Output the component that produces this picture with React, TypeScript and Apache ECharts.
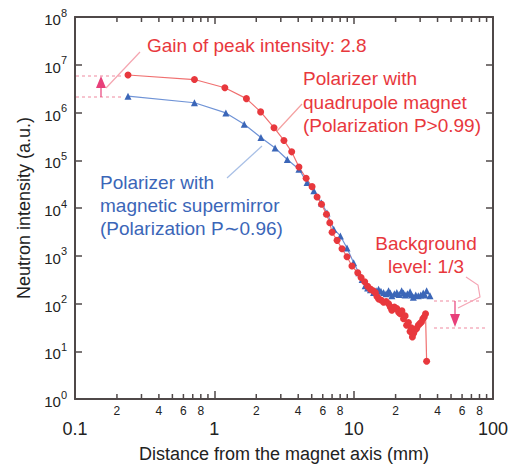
import { useEffect, useRef } from 'react';
import * as echarts from 'echarts';

const FONT = 'Liberation Sans, Arial, Helvetica, sans-serif';

// Polarizer with quadrupole magnet (red)
const redX = [0.24, 0.72, 1.19, 1.7, 2.15, 2.68, 3.16, 3.59, 4.05, 4.56, 5.03, 5.46, 5.88, 6.38, 6.74, 7.0, 7.6, 8.25, 8.96, 9.72, 10.7, 11.3, 12.0, 12.6, 13.2, 13.8, 14.3, 14.7, 15.1, 15.7, 16.4, 17.1, 17.8, 18.3, 18.8, 19.6, 20.4, 21.0, 21.6, 22.2, 22.8, 23.4, 24.0, 24.7, 25.4, 25.9, 26.4, 27.0, 27.6, 28.3, 29.1, 29.9, 30.7, 31.4, 32.1, 32.8, 33.4];
const redY = [6.1e6, 4.9e6, 3.3e6, 1.95e6, 1.03e6, 4.8e5, 2.6e5, 1.5e5, 7.2e4, 4.2e4, 2.8e4, 1.7e4, 1.2e4, 7.4e3, 4.9e3, 3.1e3, 2.1e3, 1.4e3, 950, 610, 440, 350, 285, 230, 200, 185, 170, 140, 125, 118, 106, 110, 99, 85, 72, 84, 78, 66, 61, 70, 48, 55, 35, 40, 26, 31, 20, 24, 28, 30, 35, 38, 41, 48, 52, 61, 6.2];

// Polarizer with magnetic supermirror (blue)
const blueX = [0.24, 0.72, 1.21, 1.64, 2.16, 2.73, 3.34, 4.05, 4.63, 5.18, 5.88, 6.44, 7.2, 8.03, 8.96, 10.0, 10.9, 11.5, 12.1, 12.6, 13.2, 13.9, 14.5, 15.1, 15.7, 16.4, 17.1, 17.8, 18.3, 18.8, 19.6, 20.4, 21.2, 22.1, 22.8, 23.4, 24.3, 25.4, 26.0, 26.8, 27.9, 29.1, 30.3, 31.6, 32.5, 33.4, 35.3];
const blueY = [2.2e6, 1.6e6, 9.8e5, 5.7e5, 3.0e5, 1.8e5, 1.04e5, 6.5e4, 3.4e4, 2.3e4, 1.27e4, 7.9e3, 3.6e3, 2.6e3, 1.45e3, 710, 440, 320, 235, 210, 194, 170, 185, 200, 180, 170, 160, 185, 165, 146, 160, 170, 155, 185, 165, 150, 160, 177, 150, 135, 150, 146, 150, 166, 150, 185, 146];

// Minor x ticks (2..9 in each decade) and their labels
const minorTickValues = [0.2, 0.3, 0.4, 0.5, 0.6, 0.7, 0.8, 0.9, 2, 3, 4, 5, 6, 7, 8, 9, 20, 30, 40, 50, 60, 70, 80, 90];
const minorTickLabels = ['2', '', '4', '', '6', '', '8', '', '2', '', '4', '', '6', '', '8', '', '2', '', '4', '', '6', '', '8', ''];

const RED = '#e8383d';
const BLUE = '#3b66b8';
const AXIS = '#4f4848';

export default function App() {
  const ref = useRef<HTMLDivElement>(null);
  useEffect(() => {
    const chart = echarts.init(ref.current!, null, { renderer: 'svg' });
    const axisCommon = {
      type: 'log' as const,
      logBase: 10,
      axisLine: { show: true, lineStyle: { color: AXIS, width: 2 } },
      splitLine: { show: false },
    };
    const option: any = {
      animation: false,
      backgroundColor: '#fff',
      grid: { left: 75, right: 16, top: 17, bottom: 63 },
      xAxis: [
        {
          ...axisCommon,
          min: 0.1,
          max: 100,
          splitNumber: 3,
          position: 'bottom',
          axisTick: { inside: true, length: 8, lineStyle: { color: AXIS, width: 1.5 } },
          axisLabel: {
            margin: 21,
            fontSize: 18,
            fontFamily: FONT,
            color: '#222',
            formatter: (v: number) => String(v),
          },
          name: 'Distance from the magnet axis (mm)',
          nameLocation: 'middle',
          nameGap: 46,
          nameTextStyle: { fontSize: 18, fontFamily: FONT, color: '#222' },
        },
        {
          ...axisCommon,
          min: 0.1,
          max: 100,
          splitNumber: 3,
          position: 'top',
          axisTick: { inside: true, length: 7, lineStyle: { color: AXIS, width: 1.5 } },
          axisLabel: { show: false },
        },
      ],
      yAxis: [
        {
          ...axisCommon,
          min: 1,
          max: 1e8,
          splitNumber: 8,
          position: 'left',
          axisTick: { inside: true, length: 7, lineStyle: { color: AXIS, width: 1.5 } },
          axisLabel: {
            margin: 8,
            fontFamily: FONT,
            color: '#222',
            formatter: (v: number) => `{b|10}{s|${Math.round(Math.log10(v))}}`,
            rich: {
              b: { fontSize: 15, fontFamily: FONT, color: '#222', padding: [5, 0, 0, 0] },
              s: { fontSize: 11, fontFamily: FONT, color: '#222', verticalAlign: 'top' },
            },
          },
          name: 'Neutron intensity (a.u.)',
          nameLocation: 'middle',
          nameGap: 40,
          nameRotate: 90,
          nameTextStyle: { fontSize: 18, fontFamily: FONT, color: '#222' },
        },
        {
          ...axisCommon,
          min: 1,
          max: 1e8,
          splitNumber: 8,
          position: 'right',
          axisTick: { inside: true, length: 7, lineStyle: { color: AXIS, width: 1.5 } },
          axisLabel: { show: false },
        },
      ],
      series: [
        {
          type: 'custom',
          silent: true,
          clip: false,
          xAxisIndex: 0,
          yAxisIndex: 0,
          data: minorTickValues.map((v) => [v, 1]),
          renderItem: (params: any, api: any) => {
            const v = api.value(0);
            const b = api.coord([v, 1]);
            const t = api.coord([v, 1e8]);
            const lbl = minorTickLabels[params.dataIndex];
            const children: any[] = [
              { type: 'line', shape: { x1: b[0], y1: b[1], x2: b[0], y2: b[1] - 5 }, style: { stroke: AXIS, lineWidth: 1.5 } },
              { type: 'line', shape: { x1: t[0], y1: t[1], x2: t[0], y2: t[1] + 5 }, style: { stroke: AXIS, lineWidth: 1.5 } },
            ];
            if (lbl) {
              children.push({
                type: 'text',
                x: b[0],
                y: b[1] + 12,
                style: { text: lbl, fontSize: 12, fontFamily: FONT, fill: '#222', align: 'center', verticalAlign: 'middle' },
              });
            }
            return { type: 'group', children };
          },
        },
        {
          name: 'supermirror',
          type: 'line',
          data: blueX.map((x, i) => [x, blueY[i]]),
          symbol: 'triangle',
          symbolSize: 7,
          itemStyle: { color: BLUE },
          lineStyle: { color: '#6f93d6', width: 1.2 },
        },
        {
          name: 'quadrupole',
          type: 'line',
          data: redX.map((x, i) => [x, redY[i]]),
          symbol: 'circle',
          symbolSize: 7,
          itemStyle: { color: RED },
          lineStyle: { color: '#f07070', width: 1.2 },
        },
      ],
      graphic: [
        { type: 'line', shape: { x1: 76, y1: 76, x2: 124, y2: 76 }, style: { stroke: '#f08aa0', lineDash: [3, 3], lineWidth: 1.2 } },
        { type: 'line', shape: { x1: 76, y1: 97, x2: 124, y2: 97 }, style: { stroke: '#f08aa0', lineDash: [3, 3], lineWidth: 1.2 } },
        { type: 'line', shape: { x1: 101, y1: 97, x2: 101, y2: 86 }, style: { stroke: '#e8407a', lineWidth: 1.2 } },
        { type: 'polygon', shape: { points: [[101, 76], [96, 88], [106, 88]] }, style: { fill: '#e8407a' } },
        { type: 'line', shape: { x1: 106, y1: 88, x2: 140, y2: 52 }, style: { stroke: '#f5a5b0', lineWidth: 1.2 } },
        { type: 'line', shape: { x1: 302, y1: 104, x2: 277, y2: 131 }, style: { stroke: '#f4a0a0', lineWidth: 1.2 } },
        { type: 'line', shape: { x1: 227, y1: 178, x2: 262, y2: 146 }, style: { stroke: '#a8bfe6', lineWidth: 1.2 } },
        { type: 'line', shape: { x1: 434, y1: 301, x2: 480, y2: 301 }, style: { stroke: '#f08aa0', lineDash: [3, 3], lineWidth: 1.2 } },
        { type: 'line', shape: { x1: 434, y1: 328, x2: 485, y2: 328 }, style: { stroke: '#f08aa0', lineDash: [3, 3], lineWidth: 1.2 } },
        { type: 'line', shape: { x1: 455, y1: 301, x2: 455, y2: 315 }, style: { stroke: '#e8407a', lineWidth: 1.2 } },
        { type: 'polygon', shape: { points: [[455, 327], [450, 314], [460, 314]] }, style: { fill: '#e8407a' } },
        { type: 'polyline', shape: { points: [[466, 277], [478, 285], [480, 297], [458, 308]] }, style: { stroke: '#f5a5b5', lineWidth: 1.2, fill: 'none' } },
        { type: 'text', x: 147, y: 45, style: { text: 'Gain of peak intensity: 2.8', fontSize: 19, fontFamily: FONT, fill: RED, align: 'left', verticalAlign: 'middle' } },
        { type: 'text', x: 303, y: 78, style: { text: 'Polarizer with', fontSize: 19, fontFamily: FONT, fill: RED, align: 'left', verticalAlign: 'middle' } },
        { type: 'text', x: 303, y: 102, style: { text: 'quadrupole magnet', fontSize: 19, fontFamily: FONT, fill: RED, align: 'left', verticalAlign: 'middle' } },
        { type: 'text', x: 303, y: 125, style: { text: '(Polarization P>0.99)', fontSize: 19, fontFamily: FONT, fill: RED, align: 'left', verticalAlign: 'middle' } },
        { type: 'text', x: 100, y: 182, style: { text: 'Polarizer with', fontSize: 19, fontFamily: FONT, fill: BLUE, align: 'left', verticalAlign: 'middle' } },
        { type: 'text', x: 100, y: 205, style: { text: 'magnetic supermirror', fontSize: 19, fontFamily: FONT, fill: BLUE, align: 'left', verticalAlign: 'middle' } },
        { type: 'text', x: 100, y: 228, style: { text: '(Polarization P\u223c0.96)', fontSize: 19, fontFamily: FONT, fill: BLUE, align: 'left', verticalAlign: 'middle' } },
        { type: 'text', x: 426, y: 243, style: { text: 'Background', fontSize: 19, fontFamily: FONT, fill: RED, align: 'center', verticalAlign: 'middle' } },
        { type: 'text', x: 426, y: 266, style: { text: 'level: 1/3', fontSize: 19, fontFamily: FONT, fill: RED, align: 'center', verticalAlign: 'middle' } },
      ],
    };
    chart.setOption(option);
    return () => chart.dispose();
  }, []);
  return (
    <div
      ref={ref}
      style={{ position: 'fixed', left: 0, top: 0, width: 511, height: 468, background: '#fff' }}
    />
  );
}
